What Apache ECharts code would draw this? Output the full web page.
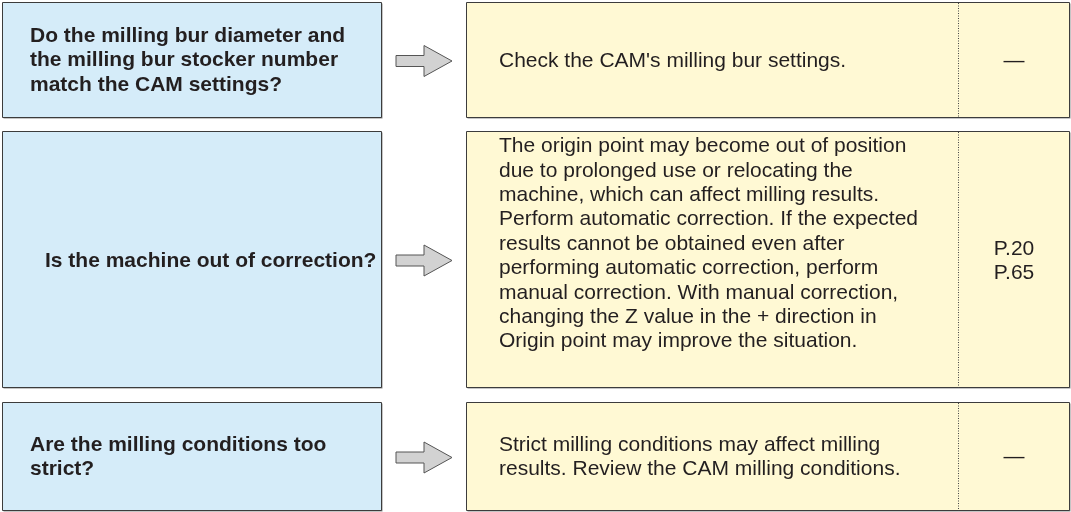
<!DOCTYPE html>
<html>
<head>
<meta charset="utf-8">
<script src="https://cdn.jsdelivr.net/npm/echarts@6/dist/echarts.min.js"></script>
<style>html,body{margin:0;padding:0;background:#fff}#main{width:1071px;height:512px}</style>
</head>
<body>
<div id="main"></div>
<script>
// ---- content ----
const questions = [
  "Do the milling bur diameter and\nthe milling bur stocker number\nmatch the CAM settings?",
  "Is the machine out of correction?",
  "Are the milling conditions too\nstrict?"
];
const remedies = [
  "Check the CAM's milling bur settings.",
  "The origin point may become out of position\ndue to prolonged use or relocating the\nmachine, which can affect milling results.\nPerform automatic correction. If the expected\nresults cannot be obtained even after\nperforming automatic correction, perform\nmanual correction. With manual correction,\nchanging the Z value in the + direction in\nOrigin point may improve the situation.",
  "Strict milling conditions may affect milling\nresults. Review the CAM milling conditions."
];
const pageRefs = ["\u2014", "P.20\nP.65", "\u2014"];

// ---- layout ----
const rowTops = [2, 131, 402];
const rowBottoms = [117, 387, 510];
const questionIndent = [30, 45, 30];
const questionShift = [1, 2, 1];
const remedyShift = [2, -15, 1];
const refShift = [2, 2, 1];
const L = { qx0: 2, qx1: 381, rx0: 466, rx1: 1069, div: 958, textX: 499, arrowX0: 396, arrowNeck: 424, arrowTip: 452 };
const FONT = '"Liberation Sans", Arial, Helvetica, sans-serif';

const chart = echarts.init(document.getElementById('main'), null, { renderer: 'canvas' });
const elements = [];

function box(x0, y0, x1, y1, fill) {
  elements.push({ type: 'rect', shape: { x: x0 + 1.5, y: y0 + 1.5, width: x1 - x0, height: y1 - y0 }, style: { fill: '#8c8c8c' }, silent: true });
  elements.push({ type: 'rect', shape: { x: x0 + 0.5, y: y0 + 0.5, width: x1 - x0, height: y1 - y0 }, style: { fill: fill, stroke: '#3c3c3c', lineWidth: 1 }, silent: true });
}

questions.forEach((q, i) => {
  const y0 = rowTops[i], y1 = rowBottoms[i], cy = (y0 + y1) / 2;
  box(L.qx0, y0, L.qx1, y1, '#d5ecf9');
  box(L.rx0, y0, L.rx1, y1, '#fff9d4');
  // dotted divider
  elements.push({ type: 'line', shape: { x1: L.div + 0.5, y1: y0 + 1, x2: L.div + 0.5, y2: y1 + 1 }, style: { stroke: '#444', lineWidth: 1, lineDash: [1, 1.5] }, silent: true });
  // arrow
  const ay = cy + 1.5;
  elements.push({ type: 'polygon', shape: { points: [
    [L.arrowX0, ay - 5.5], [L.arrowNeck, ay - 5.5], [L.arrowNeck, ay - 15.5], [L.arrowTip, ay],
    [L.arrowNeck, ay + 15.5], [L.arrowNeck, ay + 5.5], [L.arrowX0, ay + 5.5]
  ] }, style: { fill: '#d2d2d2', stroke: '#555', lineWidth: 1 }, silent: true });
  // question
  elements.push({ type: 'text', x: questionIndent[i], y: cy + questionShift[i], style: { text: q, font: 'bold 21px ' + FONT, fill: '#231f20', lineHeight: 24.5, verticalAlign: 'middle', align: 'left' }, silent: true });
  // remedy
  elements.push({ type: 'text', x: L.textX, y: cy + remedyShift[i], style: { text: remedies[i], font: '21px ' + FONT, fill: '#231f20', lineHeight: 24.4, verticalAlign: 'middle', align: 'left' }, silent: true });
  // page ref
  elements.push({ type: 'text', x: (L.div + L.rx1) / 2 + 0.5, y: cy + refShift[i], style: { text: pageRefs[i], font: '21px ' + FONT, fill: '#231f20', lineHeight: 24, verticalAlign: 'middle', align: 'center' }, silent: true });
});

chart.setOption({ animation: false, backgroundColor: '#fff', graphic: { elements: elements } });
</script>
</body>
</html>
